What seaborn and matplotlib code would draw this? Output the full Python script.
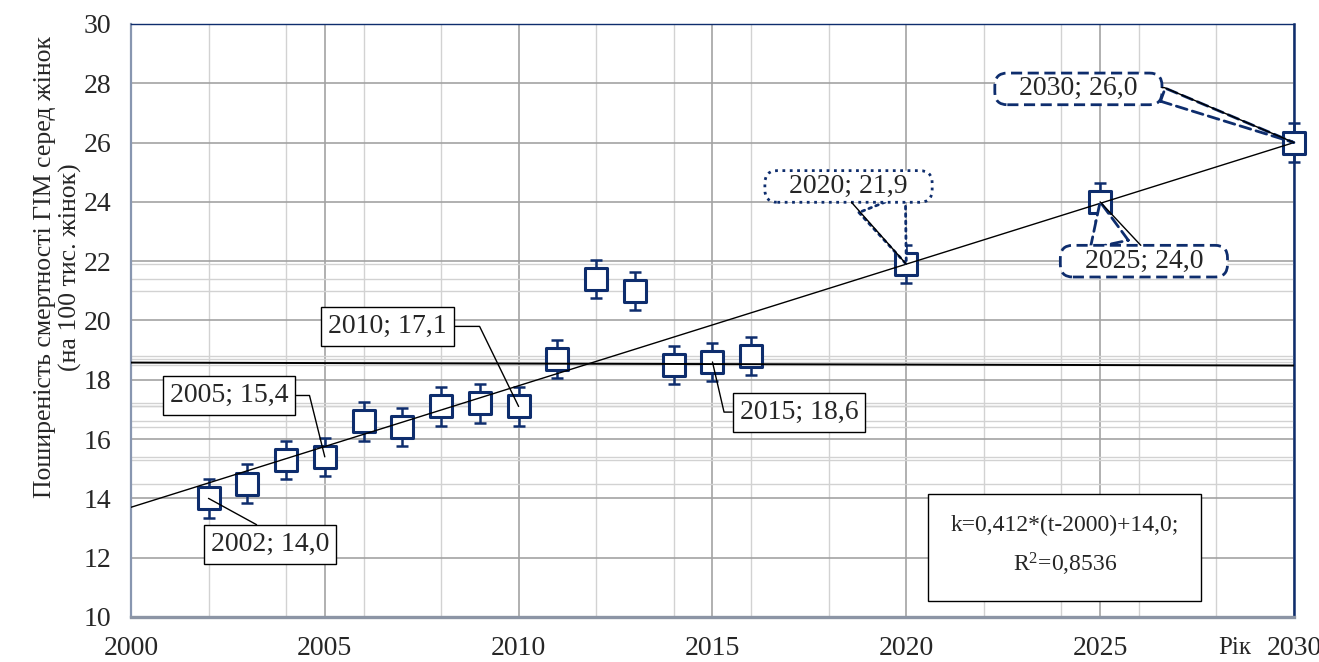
import matplotlib
matplotlib.use("Agg")
import matplotlib.pyplot as plt
import matplotlib.ticker as mticker
import seaborn as sns

# observed + forecast values
years = [2002, 2003, 2004, 2005, 2006, 2007, 2008, 2009, 2010,
         2011, 2012, 2013, 2014, 2015, 2016, 2020, 2025, 2030]
values = [14.0, 14.5, 15.3, 15.4, 16.6, 16.4, 17.1, 17.2, 17.1,
          18.7, 21.4, 21.0, 18.5, 18.6, 18.8, 21.9, 24.0, 26.0]
errors = [0.65, 0.65, 0.65, 0.65, 0.65, 0.65, 0.65, 0.65, 0.65,
          0.65, 0.65, 0.65, 0.65, 0.65, 0.65, 0.65, 0.65, 0.65]

trend_years = [2000, 2030]
trend_values = [13.7, 26.0]
mean_years = [2000, 2030]
mean_values = [18.58, 18.48]

label_years = [2002, 2005, 2010, 2015, 2020, 2025, 2030]
formula_text = "k=0,412*(t-2000)+14,0;\nR$^{2}$=0,8536"
y_title = "Поширеність смертності ГІМ серед жінок\n(на 100 тис. жінок)"
x_title = "Рік"

NAVY = "#0E2D6D"
FONT = ["Liberation Serif", "DejaVu Serif"]


def label_for(year):
    v = values[years.index(year)]
    return f"{year}; {v:.1f}".replace(".", ",")


def point(year):
    return (year, values[years.index(year)])


sns.set_style("white")
plt.rcParams.update({
    "font.family": FONT,
    "mathtext.fontset": "custom",
    "mathtext.rm": "Liberation Serif",
    "mathtext.it": "Liberation Serif:italic",
})

fig = plt.figure(figsize=(13.19, 6.62), dpi=100)
ax = fig.add_axes([0.0993, 0.068, 0.8817, 0.8958])

ax.set_xlim(2000, 2030)
ax.set_ylim(10, 30)
ax.xaxis.set_major_locator(mticker.MultipleLocator(5))
ax.xaxis.set_minor_locator(mticker.MultipleLocator(2))
ax.yaxis.set_major_locator(mticker.MultipleLocator(2))
ax.yaxis.set_minor_locator(mticker.FixedLocator(values))
ax.set_axisbelow(True)
ax.grid(which="major", color="#a3a3a3", lw=1.2)
ax.grid(which="minor", color="#d2d2d2", lw=1.0)
ax.tick_params(which="minor", length=0)
ax.tick_params(which="major", direction="out", length=6, width=1.2,
               color="#8a8a8a", labelsize=20, pad=8)

ax.spines["top"].set_color(NAVY)
ax.spines["top"].set_linewidth(1.0)
ax.spines["right"].set_color(NAVY)
ax.spines["right"].set_linewidth(1.8)
ax.spines["left"].set_color("#8896B0")
ax.spines["left"].set_linewidth(1.6)
ax.spines["bottom"].set_color("#8C95A5")
ax.spines["bottom"].set_linewidth(2.4)

# error bars + open square markers
ax.errorbar(years, values, yerr=errors, fmt="none", ecolor=NAVY,
            elinewidth=1.8, capsize=4.6, capthick=1.8, zorder=2.8, clip_on=False)
sns.scatterplot(x=years, y=values, marker="s", s=235, color="white",
                edgecolor=NAVY, linewidth=2.2, zorder=3, clip_on=False, ax=ax)

# trend and mean lines
sns.lineplot(x=trend_years, y=trend_values, color="black", lw=1.0,
             zorder=4, ax=ax)
sns.lineplot(x=mean_years, y=mean_values, color="black", lw=1.4,
             zorder=4, ax=ax)

# plain boxed labels with black leaders
plain = [
    (2002, (2003.59, 12.44), dict(relpos=(0.5, 1.0))),
    (2005, (2002.53, 17.47), dict(relpos=(1.0, 0.5),
                                  connectionstyle="angle,angleA=0,angleB=104,rad=0")),
    (2010, (2006.62, 19.80), dict(relpos=(1.0, 0.5),
                                  connectionstyle="angle,angleA=0,angleB=116,rad=0")),
    (2015, (2017.23, 16.91), dict(relpos=(0.0, 0.5),
                                  connectionstyle="angle,angleA=0,angleB=103,rad=0")),
]
for yr, pos, extra in plain:
    ax.annotate(label_for(yr), xy=point(yr), xytext=pos, textcoords="data",
                ha="center", va="center", fontsize=20, zorder=6,
                bbox=dict(boxstyle="square,pad=0.25", fc="white", ec="black", lw=1.0),
                arrowprops=dict(arrowstyle="-", color="black", lw=1.0,
                                shrinkA=0, shrinkB=0, **extra))

# callout balloons (dotted / dashed)
callouts = [
    (2020, (2018.51, 24.52), ":", 1.8, (0.68, 0.3), (0.5, 0.0), "arc3"),
    (2025, (2026.13, 22.00), (0, (4, 2)), 1.4, (0.3, 0.7), (0.5, 1.0), "arc3"),
    (2030, (2024.44, 27.81), (0, (4, 2)), 0.5, (0.97, 0.4), (1.0, 0.55),
     "angle,angleA=0,angleB=157,rad=0"),
]
for yr, pos, ls, tw, wedge_rel, line_rel, conn in callouts:
    txt = "   " + label_for(yr) + "   "
    box = dict(boxstyle="round,pad=0.12,rounding_size=0.45", fc="white",
               ec=NAVY, lw=2.0, ls=ls)
    ax.annotate(txt, xy=point(yr), xytext=pos, textcoords="data",
                ha="center", va="center", fontsize=20, zorder=6, bbox=box,
                arrowprops=dict(arrowstyle=f"wedge,tail_width={tw},shrink_factor=0.5",
                                fc="white", ec=NAVY, lw=2.0, ls=ls,
                                shrinkA=0, shrinkB=0, relpos=wedge_rel))
    ax.annotate(txt, xy=point(yr), xytext=pos, textcoords="data",
                ha="center", va="center", fontsize=20, zorder=6.5, color="none",
                bbox=dict(boxstyle="round,pad=0.12,rounding_size=0.45",
                          fc="none", ec="none"),
                arrowprops=dict(arrowstyle="-", color="black", lw=1.0,
                                shrinkA=0, shrinkB=0, relpos=line_rel,
                                connectionstyle=conn))

# regression formula
ax.text(2024.09, 12.38, formula_text, ha="center", va="center", fontsize=17,
        linespacing=1.75, zorder=6,
        bbox=dict(boxstyle="square,pad=0.95", fc="white", ec="black", lw=1.0))

ax.set_ylabel(y_title, fontsize=18.5, linespacing=1.2)
ax.yaxis.set_label_coords(-0.042, 0.59)
ax.set_xlabel(x_title, fontsize=18, va="center")
ax.xaxis.set_label_coords(0.949, -0.052)

fig.savefig("out.png", dpi=100)
